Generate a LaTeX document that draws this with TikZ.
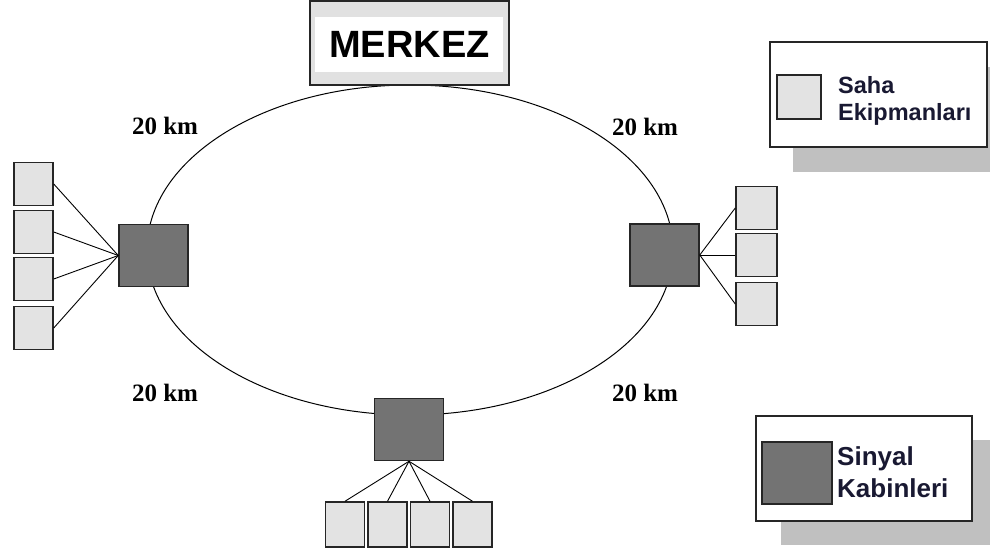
\documentclass[tikz,border=0pt]{standalone}
\usepackage{fontspec}
\setmainfont{Liberation Sans}
\newfontfamily\serifb{Liberation Serif}
\definecolor{cabfill}{RGB}{115,115,115}
\definecolor{eqfill}{RGB}{227,227,227}
\definecolor{shadowc}{RGB}{192,192,192}
\definecolor{legtext}{RGB}{25,25,50}
\definecolor{merkezfill}{RGB}{225,225,225}
\begin{document}
\begin{tikzpicture}[x=1pt,y=-1pt,
 cab/.style={draw=black!85,line width=1.5pt,fill=cabfill,minimum width=69pt,minimum height=62pt,inner sep=0pt},
 equip/.style={draw=black!85,line width=1.5pt,fill=eqfill,minimum width=39pt,minimum height=43pt,inner sep=0pt},
 link/.style={draw=black,line width=0.9pt},
 dist/.style={font=\serifb\bfseries\fontsize{25}{25}\selectfont,inner sep=0pt},
 legbox/.style={draw=black!85,line width=1.5pt,fill=white,minimum width=217pt,minimum height=105pt,inner sep=0pt},
 shadowbox/.style={fill=shadowc,minimum width=217pt,minimum height=105pt,inner sep=0pt},
 legtxt/.style={text=legtext,anchor=base west,inner sep=0pt}]
\useasboundingbox (0,0) rectangle (990,553);
\clip (0,0) rectangle (990,553);
\fill[white] (0,0) rectangle (990,553);
% ring
\draw[line width=1pt] (410,250) ellipse [x radius=263, y radius=165];
% centre
\node[draw=black!85,line width=1.5pt,fill=merkezfill,minimum width=199pt,minimum height=84pt,inner sep=0pt] (merkez) at (409.5,43) {};
\fill[white] (315,17) rectangle (503,72);
\node[font=\bfseries\fontsize{38}{38}\selectfont,inner sep=0pt] (merkezt) at (409.5,44) {MERKEZ};
% cabinets
\node[cab] (cabL) at (153.5,255.5) {};
\node[cab] (cabR) at (664.5,255) {};
\node[cab] (cabB) at (409,429.5) {};
% left equipment
\node[equip] (eqL1) at (33.5,184) {};
\node[equip] (eqL2) at (33.5,232) {};
\node[equip] (eqL3) at (33.5,279) {};
\node[equip] (eqL4) at (33.5,328) {};
\foreach \i in {1,2,3,4} {\draw[link] (eqL\i.east) -- (cabL.west);}
% right equipment
\node[equip,minimum width=41pt] (eqR1) at (756.5,208) {};
\node[equip,minimum width=41pt] (eqR2) at (756.5,255) {};
\node[equip,minimum width=41pt] (eqR3) at (756.5,304) {};
\foreach \i in {1,2,3} {\draw[link] (cabR.east) -- (eqR\i.west);}
% bottom equipment
\node[equip,minimum height=45pt] (eqB1) at (345,524.5) {};
\node[equip,minimum height=45pt] (eqB2) at (387.5,524.5) {};
\node[equip,minimum height=45pt] (eqB3) at (430,524.5) {};
\node[equip,minimum height=45pt] (eqB4) at (472.5,524.5) {};
\foreach \i in {1,2,3,4} {\draw[link] (cabB.south) -- (eqB\i.north);}
% distances
\node[dist] (d1) at (165,126) {20 km};
\node[dist] (d2) at (645,127) {20 km};
\node[dist] (d3) at (165,393) {20 km};
\node[dist] (d4) at (645,393) {20 km};
% legend 1
\node[shadowbox] (sh1) at (901.5,119.5) {};
\node[legbox] (leg1) at (878.5,94.5) {};
\node[equip,minimum width=44pt,minimum height=44pt] (legeq) at (799,97) {};
\node[legtxt,font=\bfseries\fontsize{23.5}{23.5}\selectfont] (t1a) at (838,94) {Saha};
\node[legtxt,font=\bfseries\fontsize{23.5}{23.5}\selectfont] (t1b) at (838,121) {Ekipmanları};
% legend 2
\node[shadowbox] (sh2) at (889,492.5) {};
\node[legbox,minimum width=216pt] (leg2) at (864,468.5) {};
\node[cab,minimum width=70pt] (legcab) at (797,473) {};
\node[legtxt,font=\bfseries\fontsize{26}{26}\selectfont] (t2a) at (837,465) {Sinyal};
\node[legtxt,font=\bfseries\fontsize{26}{26}\selectfont] (t2b) at (837,497) {Kabinleri};
\end{tikzpicture}
\end{document}
